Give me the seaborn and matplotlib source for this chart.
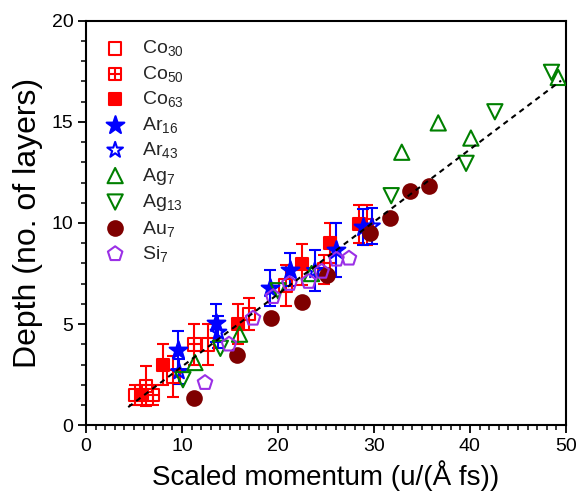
import numpy as np
import matplotlib
matplotlib.use("Agg")
import matplotlib.pyplot as plt
from matplotlib.path import Path
from matplotlib.ticker import MultipleLocator
import seaborn as sns

# ---------------- data ----------------
co30_x = [5.1, 6.25, 9.1, 12.7, 17.0, 20.8, 24.8, 29.3]
co30_y = [1.5, 1.95, 2.4, 4.0, 5.5, 6.9, 7.7, 9.9]
co30_err = [0.5, 1.0, 1.0, 1.0, 0.8, 1.0, 0.7, 1.0]

co50_x = [7.0, 11.3]
co50_y = [1.5, 4.0]
co50_err = [0.5, 1.0]

co63_x = [5.8, 8.0, 15.8, 22.5, 25.4, 28.4]
co63_y = [1.5, 3.0, 5.0, 7.95, 9.0, 9.95]
co63_err = [0.5, 1.0, 1.0, 1.0, 1.0, 0.95]

ar16_x = [9.6, 13.5, 19.2, 21.25, 26.1, 28.9]
ar16_y = [3.7, 5.05, 6.8, 7.7, 8.66, 9.8]
ar16_err = [0.95, 0.95, 0.9, 0.8, 1.35, 0.9]

ar43_x = [9.7, 13.8, 23.85, 29.8]
ar43_y = [2.65, 4.6, 7.65, 9.85]
ar43_err = [0.6, 0.8, 1.0, 0.9]

ag7_x = [11.35, 16.0, 23.5, 32.9, 36.7, 40.1, 49.2]
ag7_y = [3.1, 4.5, 7.5, 13.5, 14.95, 14.2, 17.2]

ag13_x = [10.1, 14.0, 20.0, 31.8, 39.6, 42.6, 48.5]
ag13_y = [2.25, 3.8, 6.65, 11.35, 12.95, 15.5, 17.45]

au7_x = [11.25, 15.7, 19.3, 22.5, 25.15, 29.6, 31.7, 33.75, 35.7]
au7_y = [1.37, 3.47, 5.3, 6.1, 7.45, 9.5, 10.25, 11.6, 11.85]

si7_x = [12.4, 14.9, 17.4, 19.5, 21.2, 23.2, 24.55, 26.1, 27.4]
si7_y = [2.1, 4.0, 5.28, 6.35, 7.0, 7.1, 7.6, 8.2, 8.25]

fit_range = [4.4, 49.5]
fit_slope = 0.358
fit_intercept = -0.68

x_ticks = [0, 10, 20, 30, 40, 50]
y_ticks = [0, 5, 10, 15, 20]
x_label = "Scaled momentum (u/(Å fs))"
y_label = "Depth (no. of layers)"

# ---------------- style ----------------
sns.set_theme(style="ticks")
plt.rcParams["font.family"] = ["Liberation Sans", "DejaVu Sans"]
plt.rcParams["mathtext.fontset"] = "custom"
plt.rcParams["mathtext.rm"] = "Liberation Sans"
plt.rcParams["mathtext.default"] = "regular"

RED = "#FF0000"
BLUE = "#0000FF"
GREEN = "#008000"
MAROON = "#7F0000"
PURPLE = "#9B30E6"

# crossed square marker (square with a plus inside)
crossed_sq = Path(
    [(-1, -1), (1, -1), (1, 1), (-1, 1), (-1, -1),
     (0, -1), (0, 1), (-1, 0), (1, 0)],
    [Path.MOVETO, Path.LINETO, Path.LINETO, Path.LINETO, Path.CLOSEPOLY,
     Path.MOVETO, Path.LINETO, Path.MOVETO, Path.LINETO],
)

fig = plt.figure(figsize=(5.81, 4.95), dpi=100)
ax = fig.add_axes([0.148, 0.141, 0.826, 0.817])

# error bars
eb_kw = dict(fmt="none", capsize=4.5, elinewidth=1.5, capthick=1.5, zorder=2)
ax.errorbar(co30_x, co30_y, yerr=co30_err, ecolor=RED, **eb_kw)
ax.errorbar(co50_x, co50_y, yerr=co50_err, ecolor=RED, **eb_kw)
ax.errorbar(co63_x, co63_y, yerr=co63_err, ecolor=RED, **eb_kw)
ax.errorbar(ar16_x, ar16_y, yerr=ar16_err, ecolor=BLUE, **eb_kw)
ax.errorbar(ar43_x, ar43_y, yerr=ar43_err, ecolor=BLUE, **eb_kw)

lw = 1.5
series = [
    (co30_x, co30_y, "s", 80, "none", RED, r"Co$_{30}$"),
    (co50_x, co50_y, crossed_sq, 80, "none", RED, r"Co$_{50}$"),
    (co63_x, co63_y, "s", 80, RED, RED, r"Co$_{63}$"),
    (ar16_x, ar16_y, "*", 180, BLUE, BLUE, r"Ar$_{16}$"),
    (ar43_x, ar43_y, "*", 140, "none", BLUE, r"Ar$_{43}$"),
    (ag7_x, ag7_y, "^", 120, "none", GREEN, r"Ag$_{7}$"),
    (ag13_x, ag13_y, "v", 120, "none", GREEN, r"Ag$_{13}$"),
    (au7_x, au7_y, "o", 110, MAROON, MAROON, r"Au$_{7}$"),
    (si7_x, si7_y, "p", 120, "none", PURPLE, r"Si$_{7}$"),
]
for xs, ys, mk, sz, fc, ec, lab in series:
    sns.scatterplot(x=xs, y=ys, marker=mk, s=sz, facecolor=fc, edgecolor=ec,
                    linewidth=lw, ax=ax, label=lab, zorder=3)

# linear fit line
fx = np.array(fit_range)
sns.lineplot(x=fx, y=fit_slope * fx + fit_intercept, ax=ax, color="black",
             linestyle=(0, (2.6, 2.2)), linewidth=1.5, zorder=4)

ax.set_xlim(0, 50)
ax.set_ylim(0, 20)
ax.set_xticks(x_ticks)
ax.set_yticks(y_ticks)
ax.xaxis.set_minor_locator(MultipleLocator(1))
ax.yaxis.set_minor_locator(MultipleLocator(1))
ax.tick_params(axis="both", which="major", direction="out", length=6, width=1.3,
               labelsize=14, color="black", labelcolor="black", pad=3)
ax.tick_params(axis="both", which="minor", direction="out", length=3.5, width=1.1,
               color="black")
ax.tick_params(top=False, right=False, which="both")
for sp in ax.spines.values():
    sp.set_visible(True)
    sp.set_linewidth(1.5)
    sp.set_color("black")

ax.set_xlabel(x_label, fontsize=20, labelpad=4, color="black")
ax.set_ylabel(y_label, fontsize=23, labelpad=6, color="black")

leg = ax.legend(loc="upper left", bbox_to_anchor=(0.0, 0.99), frameon=False,
                fontsize=14, labelspacing=0.28, handletextpad=0.6,
                borderaxespad=0.3, handlelength=1.6)

fig.savefig("out.png", dpi=100)
